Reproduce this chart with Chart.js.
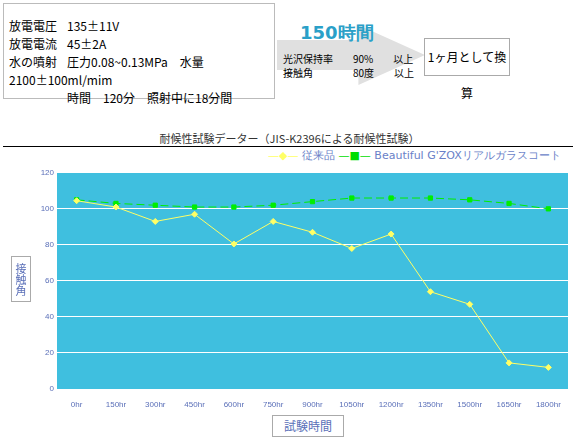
<!DOCTYPE html>
<html><head><meta charset="utf-8">
<script src="https://cdn.jsdelivr.net/npm/chart.js@4"></script>
<style>
body{margin:0;width:579px;height:444px;position:relative;background:#fff;font-family:"Noto Sans CJK JP",sans-serif;overflow:hidden}
.abs{position:absolute}
#spec{left:3px;top:3px;width:270px;height:96px;border:1px solid #bbb;font-size:12px;line-height:18px;padding-top:13px;padding-left:5px;box-sizing:border-box;width:272px}
#spec span{display:inline-block;width:58px}
#arrow{left:277px;top:25px;width:148px;height:60px;background:#e0e0e0;clip-path:polygon(0 25%,55% 25%,55% 0,100% 50%,55% 100%,55% 75%,0 75%)}
#hrs{left:300px;top:21px;font-size:18px;font-weight:bold;color:#2aa0c8;font-family:"DejaVu Sans",sans-serif}
#res{left:283px;top:52px;font-size:10px;line-height:14px}
#month{left:424px;top:38px;width:84px;height:36px;border:1px solid #aaa;font-size:12px;line-height:36px;text-align:center}
#title{left:0;width:579px;top:130px;text-align:center;font-size:11px;color:#333}
#rule{left:3px;width:570px;top:146px;border-top:1px solid #000}
#legend{left:268px;top:148px;font-size:11px;color:#6a7fc8;font-family:"DejaVu Sans",sans-serif}
#ytitle{left:11px;top:256px;width:18px;height:44px;border:1px solid #aaa;font-size:11px;color:#5a6fb8;writing-mode:vertical-rl;text-align:center;line-height:18px}
#xtitle{left:272px;top:415px;width:70px;height:20px;border:1px solid #aaa;font-size:12px;color:#5a6fb8;text-align:center;line-height:20px}
#wrap{left:0;top:165px;width:579px;height:245px}
</style></head><body>
<div id="spec" class="abs">
<div><span>放電電圧</span>135±11V</div>
<div><span>放電電流</span>45±2A</div>
<div><span>水の噴射</span>圧力0.08~0.13MPa　水量 2100±100ml/mim</div>
<div><span></span>時間　120分　照射中に18分間</div>
</div>
<div id="arrow" class="abs"></div>
<div id="hrs" class="abs">150時間</div>
<div id="res" class="abs">光沢保持率　　90%　　以上<br>接触角　　　　80度　　以上</div>
<div id="month" class="abs">1ヶ月として換算</div>
<div id="title" class="abs">耐候性試験データー（JIS-K2396による耐候性試験）</div>
<div id="rule" class="abs"></div>
<div id="legend" class="abs"><span style="color:#ffff66">—◆—</span> 従来品 <span style="color:#00dd00">—■—</span> Beautiful G'ZOXリアルガラスコート</div>
<div id="wrap" class="abs"><canvas id="c"></canvas></div>
<div id="ytitle" class="abs">接触角</div>
<div id="xtitle" class="abs">試験時間</div>
<script>
const labels = ['0hr','150hr','300hr','450hr','600hr','750hr','900hr','1050hr','1200hr','1350hr','1500hr','1650hr','1800hr'];
const conventional = [104.5,101,93,97,80.5,93,87,78,86,54,47,14.5,12];
const gzox = [105,103,102,101,101,102,104,106,106,106,105,103,100];

new Chart(document.getElementById('c'), {
    type: 'line',
    data: {
        labels: labels,
        datasets: [
            {label: '従来品', data: conventional, borderColor: '#ffff66', backgroundColor: '#ffff66',
             borderWidth: 1, pointStyle: 'rectRot', pointRadius: 3},
            {label: 'Beautiful G\'ZOXリアルガラスコート', data: gzox, borderColor: '#00ee00', backgroundColor: '#00ee00',
             borderWidth: 1, borderDash: [8, 4], pointStyle: 'rect', pointRadius: 3}
        ]
    },
    plugins: [{
        id: 'bg',
        beforeDraw: function (chart) {
            const a = chart.chartArea;
            chart.ctx.fillStyle = '#3fbfdf';
            chart.ctx.fillRect(a.left, a.top, a.width, a.height);
        }
    }],
    options: {
        animation: false,
        responsive: true,
        maintainAspectRatio: false,
        layout: {padding: {top: 5, right: 11, bottom: 0, left: 0}},
        plugins: {legend: {display: false}, tooltip: {enabled: false}},
        scales: {
            y: {
                min: 0, max: 120,
                ticks: {stepSize: 20, color: '#5a6fb8', font: {size: 8}},
                grid: {color: '#ffffff', drawTicks: false},
                border: {display: false},
                afterFit: function (s) { s.width = 57; }
            },
            x: {
                offset: true,
                ticks: {color: '#5a6fb8', font: {size: 8}, maxRotation: 0, autoSkip: false},
                grid: {display: false},
                border: {display: false},
                afterFit: function (s) { s.height = 21; }
            }
        }
    }
});
</script>
</body></html>
